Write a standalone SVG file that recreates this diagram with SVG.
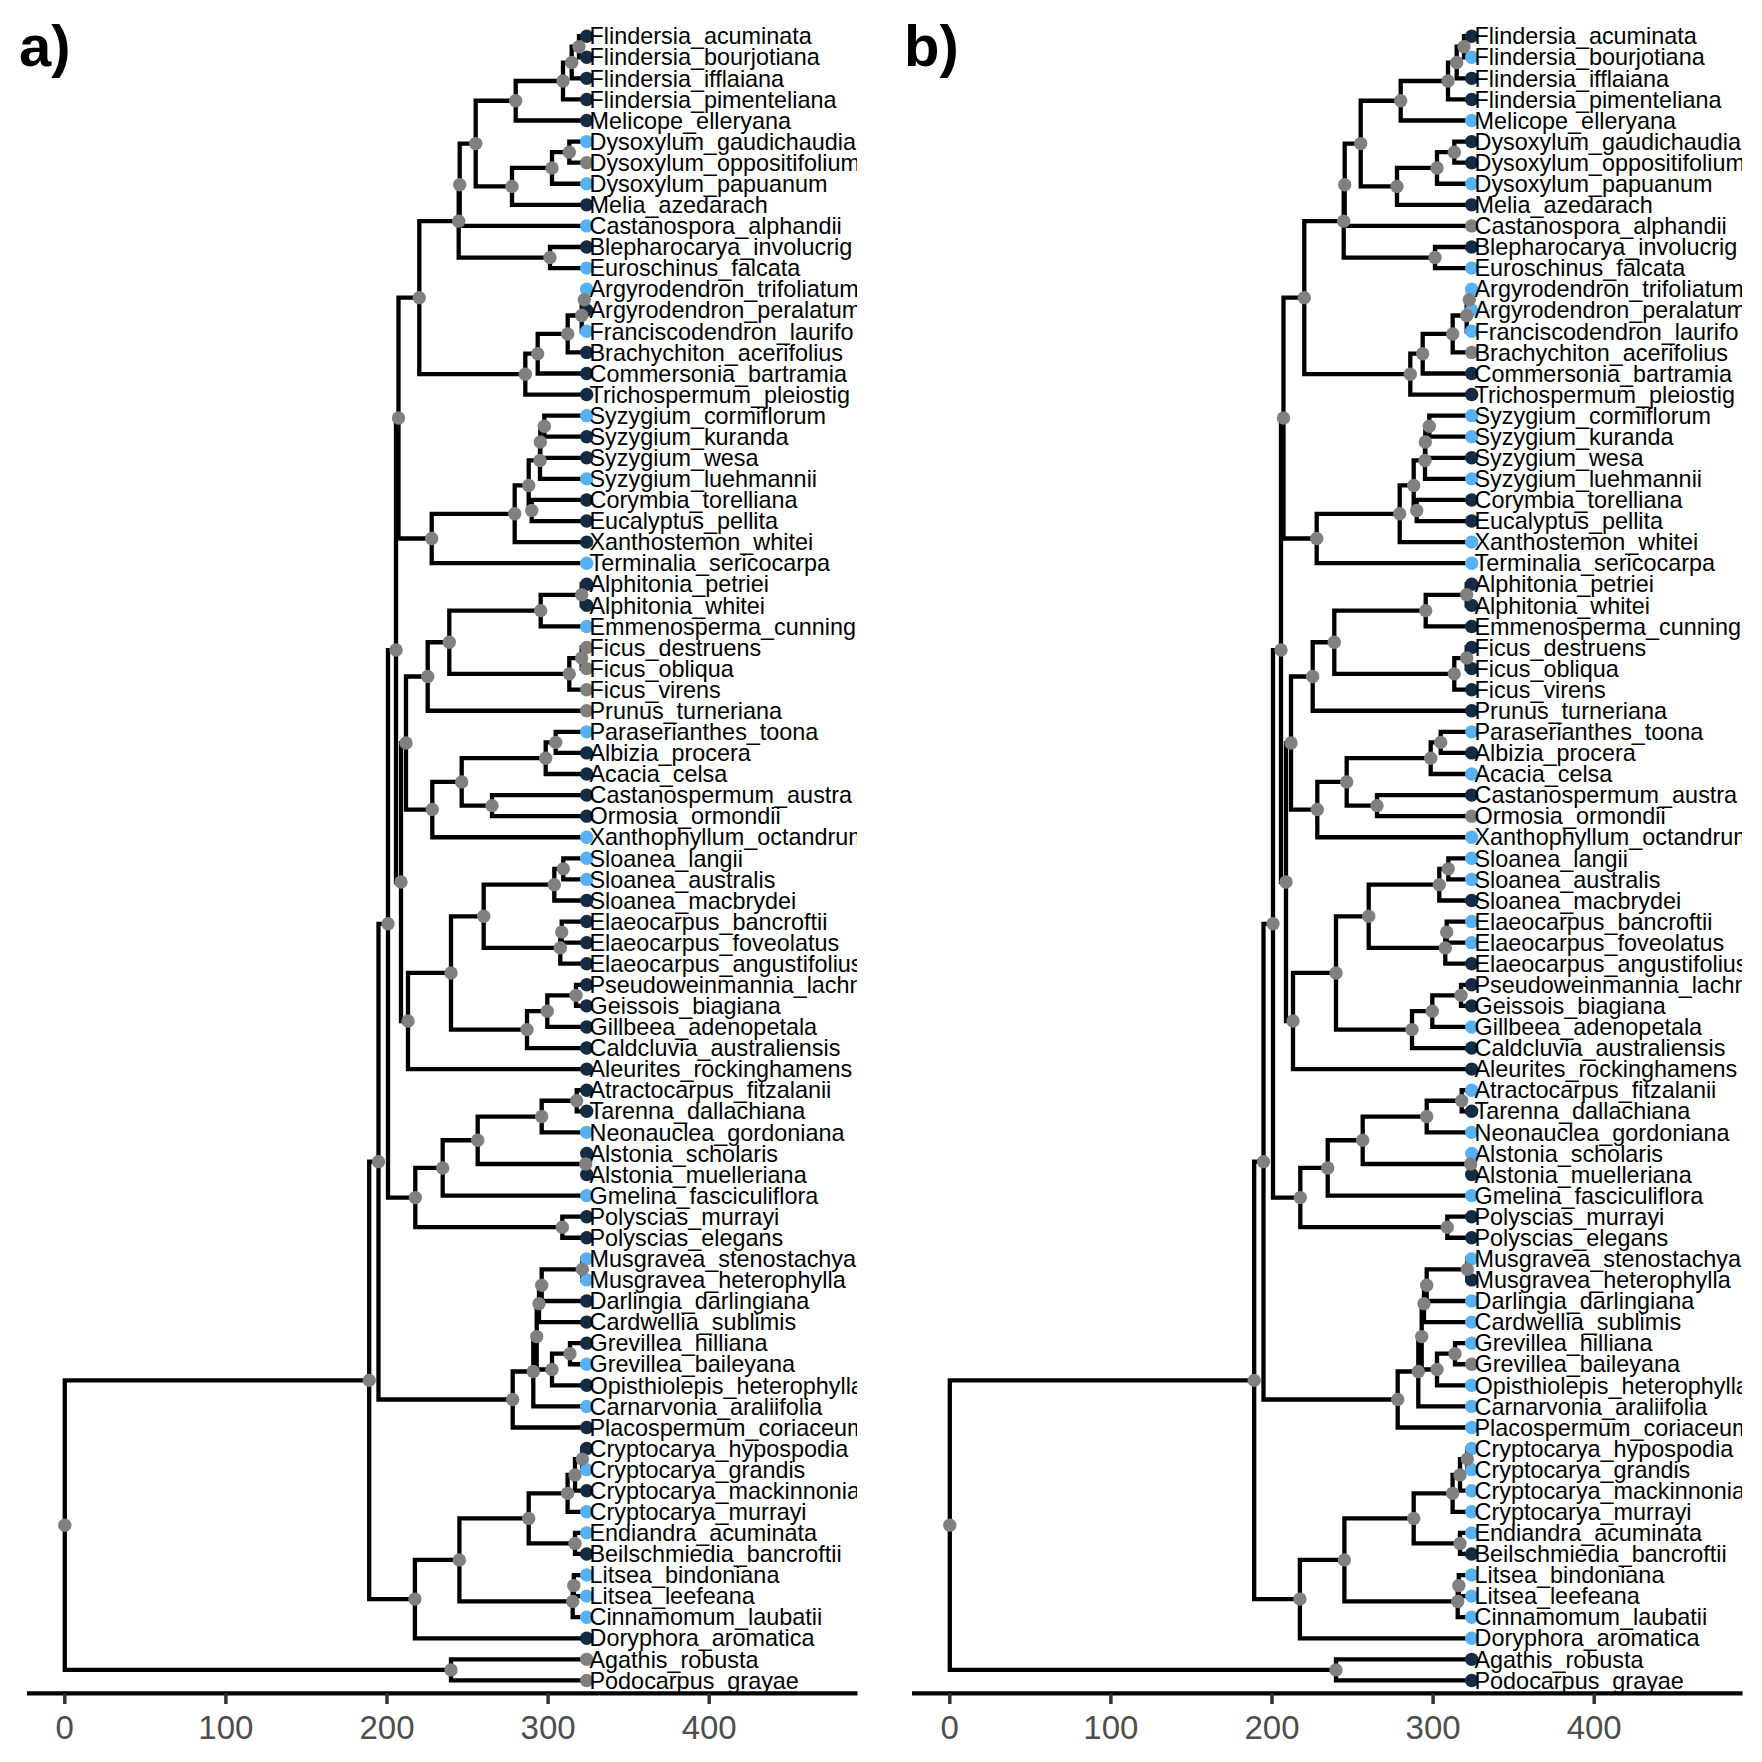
<svg xmlns="http://www.w3.org/2000/svg" width="1762" height="1762" viewBox="0 0 1762 1762">
<style>
.br{fill:none;stroke:#000;stroke-width:4.3;stroke-linejoin:miter;stroke-linecap:butt}
.nd{fill:#808080}
.dk{fill:#132B43}
.lt{fill:#56B1F7}
.gr{fill:#808080}
.lb{font-family:"Liberation Sans",Arial,sans-serif;font-size:23.4px;fill:#000}
.ax{stroke:#000;stroke-width:4.3}
.tk{stroke:#333;stroke-width:3.5}
.tl{font-family:"Liberation Sans",Arial,sans-serif;font-size:33px;fill:#4D4D4D;text-anchor:middle}
.pl{font-family:"Liberation Sans",Arial,sans-serif;font-size:58px;font-weight:bold;fill:#000}
</style>
<defs>
<clipPath id="clip" clipPathUnits="userSpaceOnUse"><rect x="0" y="0" width="857" height="1762"/></clipPath>
</defs>
<rect x="0" y="0" width="1762" height="1762" fill="#fff"/>

<g id="panel-a">
<text class="pl" x="19" y="66">a)</text>
<g id="a-connectors" class="br">
<path d="M586.7 36.2H579V57.28H586.7"/>
<path d="M579 46.74H571.7V78.36H586.7"/>
<path d="M571.7 62.55H563V99.44H586.7"/>
<path d="M563 81H515.7V120.52H586.7"/>
<path d="M586.7 141.6H569.3V162.68H586.7"/>
<path d="M569.3 152.14H552V183.76H586.7"/>
<path d="M552 167.95H512V204.84H586.7"/>
<path d="M515.7 100.76H475.7V186.4H512"/>
<path d="M475.7 143.58H459.7V225.92H586.7"/>
<path d="M586.7 247H550V268.08H586.7"/>
<path d="M459.7 184.75H458.7V257.54H550"/>
<path d="M586.7 289.16H584.3V310.24H586.7"/>
<path d="M584.3 299.7H581.7V331.32H586.7"/>
<path d="M581.7 315.51H567.7V352.4H586.7"/>
<path d="M567.7 333.96H537.7V373.48H586.7"/>
<path d="M537.7 353.72H525.3V394.56H586.7"/>
<path d="M458.7 221.15H419.3V374.14H525.3"/>
<path d="M586.7 415.64H544.3V436.72H586.7"/>
<path d="M544.3 426.18H540.3V457.8H586.7"/>
<path d="M540.3 441.99H540V478.88H586.7"/>
<path d="M586.7 499.96H531.7V521.04H586.7"/>
<path d="M540 460.44H528.7V510.5H531.7"/>
<path d="M528.7 485.47H514.7V542.12H586.7"/>
<path d="M514.7 513.8H431.7V563.2H586.7"/>
<path d="M419.3 297.65H398.5V538.5H431.7"/>
<path d="M586.7 584.28H581.7V605.36H586.7"/>
<path d="M581.7 594.82H540.7V626.44H586.7"/>
<path d="M586.7 647.52H581.7V668.6H586.7"/>
<path d="M581.7 658.06H569.3V689.68H586.7"/>
<path d="M540.7 610.63H449.3V673.87H569.3"/>
<path d="M449.3 642.25H427.7V710.76H586.7"/>
<path d="M586.7 731.84H555.7V752.92H586.7"/>
<path d="M555.7 742.38H545.7V774H586.7"/>
<path d="M586.7 795.08H492V816.16H586.7"/>
<path d="M545.7 758.19H461.7V805.62H492"/>
<path d="M461.7 781.9H432.3V837.24H586.7"/>
<path d="M427.7 676.5H406V809.57H432.3"/>
<path d="M586.7 858.32H563.3V879.4H586.7"/>
<path d="M563.3 868.86H554.3V900.48H586.7"/>
<path d="M586.7 921.56H561.7V942.64H586.7"/>
<path d="M561.7 932.1H560.3V963.72H586.7"/>
<path d="M554.3 884.67H483.7V947.91H560.3"/>
<path d="M586.7 984.8H576V1005.88H586.7"/>
<path d="M576 995.34H547.3V1026.96H586.7"/>
<path d="M547.3 1011.15H527V1048.04H586.7"/>
<path d="M483.7 916.29H451V1029.6H527"/>
<path d="M451 972.94H408V1069.12H586.7"/>
<path d="M406 743.04H401V1021.03H408"/>
<path d="M398.5 418.07H396V882.04H401"/>
<path d="M586.7 1090.2H576.7V1111.28H586.7"/>
<path d="M576.7 1100.74H541.7V1132.36H586.7"/>
<path d="M586.7 1153.44H585.7V1174.52H586.7"/>
<path d="M541.7 1116.55H477.7V1163.98H585.7"/>
<path d="M477.7 1140.27H442.7V1195.6H586.7"/>
<path d="M586.7 1216.68H562.3V1237.76H586.7"/>
<path d="M442.7 1167.93H415.3V1227.22H562.3"/>
<path d="M396 650.05H388V1197.58H415.3"/>
<path d="M586.7 1258.84H582.3V1279.92H586.7"/>
<path d="M582.3 1269.38H541.7V1301H586.7"/>
<path d="M541.7 1285.19H539V1322.08H586.7"/>
<path d="M586.7 1343.16H570V1364.24H586.7"/>
<path d="M570 1353.7H552V1385.32H586.7"/>
<path d="M539 1303.64H536.7V1369.51H552"/>
<path d="M536.7 1336.58H533.3V1406.4H586.7"/>
<path d="M533.3 1371.49H512.7V1427.48H586.7"/>
<path d="M388 923.81H378.5V1399.49H512.7"/>
<path d="M586.7 1448.56H582.3V1469.64H586.7"/>
<path d="M582.3 1459.1H575V1490.72H586.7"/>
<path d="M575 1474.91H567.6V1511.8H586.7"/>
<path d="M586.7 1532.88H575V1553.96H586.7"/>
<path d="M567.6 1493.36H528.7V1543.42H575"/>
<path d="M586.7 1575.04H573.8V1596.12H586.7"/>
<path d="M573.8 1585.58H572.7V1617.2H586.7"/>
<path d="M528.7 1518.39H459.4V1601.39H572.7"/>
<path d="M459.4 1559.89H414.9V1638.28H586.7"/>
<path d="M378.5 1161.65H369.2V1599.09H414.9"/>
<path d="M586.7 1659.36H451V1680.44H586.7"/>
<path d="M369.2 1380.37H64.8V1669.9H451"/>
</g>
<g id="a-tips" clip-path="url(#clip)">
<g id="a-t1"><circle class="dk" cx="586.7" cy="36.2" r="6.7"/><text class="lb" x="589.5" y="44.4">Flindersia_acuminata</text></g>
<g id="a-t2"><circle class="dk" cx="586.7" cy="57.28" r="6.7"/><text class="lb" x="589.5" y="65.48">Flindersia_bourjotiana</text></g>
<g id="a-t3"><circle class="dk" cx="586.7" cy="78.36" r="6.7"/><text class="lb" x="589.5" y="86.56">Flindersia_ifflaiana</text></g>
<g id="a-t4"><circle class="dk" cx="586.7" cy="99.44" r="6.7"/><text class="lb" x="589.5" y="107.64">Flindersia_pimenteliana</text></g>
<g id="a-t5"><circle class="dk" cx="586.7" cy="120.52" r="6.7"/><text class="lb" x="589.5" y="128.72">Melicope_elleryana</text></g>
<g id="a-t6"><circle class="lt" cx="586.7" cy="141.6" r="6.7"/><text class="lb" x="589.5" y="149.8">Dysoxylum_gaudichaudia</text></g>
<g id="a-t7"><circle class="gr" cx="586.7" cy="162.68" r="6.7"/><text class="lb" x="589.5" y="170.88">Dysoxylum_oppositifolium</text></g>
<g id="a-t8"><circle class="lt" cx="586.7" cy="183.76" r="6.7"/><text class="lb" x="589.5" y="191.96">Dysoxylum_papuanum</text></g>
<g id="a-t9"><circle class="dk" cx="586.7" cy="204.84" r="6.7"/><text class="lb" x="589.5" y="213.04">Melia_azedarach</text></g>
<g id="a-t10"><circle class="lt" cx="586.7" cy="225.92" r="6.7"/><text class="lb" x="589.5" y="234.12">Castanospora_alphandii</text></g>
<g id="a-t11"><circle class="dk" cx="586.7" cy="247" r="6.7"/><text class="lb" x="589.5" y="255.2">Blepharocarya_involucrig</text></g>
<g id="a-t12"><circle class="lt" cx="586.7" cy="268.08" r="6.7"/><text class="lb" x="589.5" y="276.28">Euroschinus_falcata</text></g>
<g id="a-t13"><circle class="lt" cx="586.7" cy="289.16" r="6.7"/><text class="lb" x="589.5" y="297.36">Argyrodendron_trifoliatum</text></g>
<g id="a-t14"><circle class="dk" cx="586.7" cy="310.24" r="6.7"/><text class="lb" x="589.5" y="318.44">Argyrodendron_peralatum</text></g>
<g id="a-t15"><circle class="lt" cx="586.7" cy="331.32" r="6.7"/><text class="lb" x="589.5" y="339.52">Franciscodendron_laurifo</text></g>
<g id="a-t16"><circle class="dk" cx="586.7" cy="352.4" r="6.7"/><text class="lb" x="589.5" y="360.6">Brachychiton_acerifolius</text></g>
<g id="a-t17"><circle class="dk" cx="586.7" cy="373.48" r="6.7"/><text class="lb" x="589.5" y="381.68">Commersonia_bartramia</text></g>
<g id="a-t18"><circle class="dk" cx="586.7" cy="394.56" r="6.7"/><text class="lb" x="589.5" y="402.76">Trichospermum_pleiostig</text></g>
<g id="a-t19"><circle class="lt" cx="586.7" cy="415.64" r="6.7"/><text class="lb" x="589.5" y="423.84">Syzygium_cormiflorum</text></g>
<g id="a-t20"><circle class="dk" cx="586.7" cy="436.72" r="6.7"/><text class="lb" x="589.5" y="444.92">Syzygium_kuranda</text></g>
<g id="a-t21"><circle class="dk" cx="586.7" cy="457.8" r="6.7"/><text class="lb" x="589.5" y="466">Syzygium_wesa</text></g>
<g id="a-t22"><circle class="lt" cx="586.7" cy="478.88" r="6.7"/><text class="lb" x="589.5" y="487.08">Syzygium_luehmannii</text></g>
<g id="a-t23"><circle class="dk" cx="586.7" cy="499.96" r="6.7"/><text class="lb" x="589.5" y="508.16">Corymbia_torelliana</text></g>
<g id="a-t24"><circle class="dk" cx="586.7" cy="521.04" r="6.7"/><text class="lb" x="589.5" y="529.24">Eucalyptus_pellita</text></g>
<g id="a-t25"><circle class="dk" cx="586.7" cy="542.12" r="6.7"/><text class="lb" x="589.5" y="550.32">Xanthostemon_whitei</text></g>
<g id="a-t26"><circle class="lt" cx="586.7" cy="563.2" r="6.7"/><text class="lb" x="589.5" y="571.4">Terminalia_sericocarpa</text></g>
<g id="a-t27"><circle class="dk" cx="586.7" cy="584.28" r="6.7"/><text class="lb" x="589.5" y="592.48">Alphitonia_petriei</text></g>
<g id="a-t28"><circle class="dk" cx="586.7" cy="605.36" r="6.7"/><text class="lb" x="589.5" y="613.56">Alphitonia_whitei</text></g>
<g id="a-t29"><circle class="lt" cx="586.7" cy="626.44" r="6.7"/><text class="lb" x="589.5" y="634.64">Emmenosperma_cunning</text></g>
<g id="a-t30"><circle class="gr" cx="586.7" cy="647.52" r="6.7"/><text class="lb" x="589.5" y="655.72">Ficus_destruens</text></g>
<g id="a-t31"><circle class="gr" cx="586.7" cy="668.6" r="6.7"/><text class="lb" x="589.5" y="676.8">Ficus_obliqua</text></g>
<g id="a-t32"><circle class="gr" cx="586.7" cy="689.68" r="6.7"/><text class="lb" x="589.5" y="697.88">Ficus_virens</text></g>
<g id="a-t33"><circle class="gr" cx="586.7" cy="710.76" r="6.7"/><text class="lb" x="589.5" y="718.96">Prunus_turneriana</text></g>
<g id="a-t34"><circle class="lt" cx="586.7" cy="731.84" r="6.7"/><text class="lb" x="589.5" y="740.04">Paraserianthes_toona</text></g>
<g id="a-t35"><circle class="dk" cx="586.7" cy="752.92" r="6.7"/><text class="lb" x="589.5" y="761.12">Albizia_procera</text></g>
<g id="a-t36"><circle class="dk" cx="586.7" cy="774" r="6.7"/><text class="lb" x="589.5" y="782.2">Acacia_celsa</text></g>
<g id="a-t37"><circle class="dk" cx="586.7" cy="795.08" r="6.7"/><text class="lb" x="589.5" y="803.28">Castanospermum_austra</text></g>
<g id="a-t38"><circle class="dk" cx="586.7" cy="816.16" r="6.7"/><text class="lb" x="589.5" y="824.36">Ormosia_ormondii</text></g>
<g id="a-t39"><circle class="lt" cx="586.7" cy="837.24" r="6.7"/><text class="lb" x="589.5" y="845.44">Xanthophyllum_octandrum</text></g>
<g id="a-t40"><circle class="lt" cx="586.7" cy="858.32" r="6.7"/><text class="lb" x="589.5" y="866.52">Sloanea_langii</text></g>
<g id="a-t41"><circle class="lt" cx="586.7" cy="879.4" r="6.7"/><text class="lb" x="589.5" y="887.6">Sloanea_australis</text></g>
<g id="a-t42"><circle class="dk" cx="586.7" cy="900.48" r="6.7"/><text class="lb" x="589.5" y="908.68">Sloanea_macbrydei</text></g>
<g id="a-t43"><circle class="dk" cx="586.7" cy="921.56" r="6.7"/><text class="lb" x="589.5" y="929.76">Elaeocarpus_bancroftii</text></g>
<g id="a-t44"><circle class="dk" cx="586.7" cy="942.64" r="6.7"/><text class="lb" x="589.5" y="950.84">Elaeocarpus_foveolatus</text></g>
<g id="a-t45"><circle class="dk" cx="586.7" cy="963.72" r="6.7"/><text class="lb" x="589.5" y="971.92">Elaeocarpus_angustifolius</text></g>
<g id="a-t46"><circle class="dk" cx="586.7" cy="984.8" r="6.7"/><text class="lb" x="589.5" y="993">Pseudoweinmannia_lachn</text></g>
<g id="a-t47"><circle class="dk" cx="586.7" cy="1005.88" r="6.7"/><text class="lb" x="589.5" y="1014.08">Geissois_biagiana</text></g>
<g id="a-t48"><circle class="dk" cx="586.7" cy="1026.96" r="6.7"/><text class="lb" x="589.5" y="1035.16">Gillbeea_adenopetala</text></g>
<g id="a-t49"><circle class="dk" cx="586.7" cy="1048.04" r="6.7"/><text class="lb" x="589.5" y="1056.24">Caldcluvia_australiensis</text></g>
<g id="a-t50"><circle class="dk" cx="586.7" cy="1069.12" r="6.7"/><text class="lb" x="589.5" y="1077.32">Aleurites_rockinghamens</text></g>
<g id="a-t51"><circle class="dk" cx="586.7" cy="1090.2" r="6.7"/><text class="lb" x="589.5" y="1098.4">Atractocarpus_fitzalanii</text></g>
<g id="a-t52"><circle class="dk" cx="586.7" cy="1111.28" r="6.7"/><text class="lb" x="589.5" y="1119.48">Tarenna_dallachiana</text></g>
<g id="a-t53"><circle class="lt" cx="586.7" cy="1132.36" r="6.7"/><text class="lb" x="589.5" y="1140.56">Neonauclea_gordoniana</text></g>
<g id="a-t54"><circle class="dk" cx="586.7" cy="1153.44" r="6.7"/><text class="lb" x="589.5" y="1161.64">Alstonia_scholaris</text></g>
<g id="a-t55"><circle class="dk" cx="586.7" cy="1174.52" r="6.7"/><text class="lb" x="589.5" y="1182.72">Alstonia_muelleriana</text></g>
<g id="a-t56"><circle class="lt" cx="586.7" cy="1195.6" r="6.7"/><text class="lb" x="589.5" y="1203.8">Gmelina_fasciculiflora</text></g>
<g id="a-t57"><circle class="dk" cx="586.7" cy="1216.68" r="6.7"/><text class="lb" x="589.5" y="1224.88">Polyscias_murrayi</text></g>
<g id="a-t58"><circle class="dk" cx="586.7" cy="1237.76" r="6.7"/><text class="lb" x="589.5" y="1245.96">Polyscias_elegans</text></g>
<g id="a-t59"><circle class="lt" cx="586.7" cy="1258.84" r="6.7"/><text class="lb" x="589.5" y="1267.04">Musgravea_stenostachya</text></g>
<g id="a-t60"><circle class="lt" cx="586.7" cy="1279.92" r="6.7"/><text class="lb" x="589.5" y="1288.12">Musgravea_heterophylla</text></g>
<g id="a-t61"><circle class="dk" cx="586.7" cy="1301" r="6.7"/><text class="lb" x="589.5" y="1309.2">Darlingia_darlingiana</text></g>
<g id="a-t62"><circle class="dk" cx="586.7" cy="1322.08" r="6.7"/><text class="lb" x="589.5" y="1330.28">Cardwellia_sublimis</text></g>
<g id="a-t63"><circle class="dk" cx="586.7" cy="1343.16" r="6.7"/><text class="lb" x="589.5" y="1351.36">Grevillea_hilliana</text></g>
<g id="a-t64"><circle class="lt" cx="586.7" cy="1364.24" r="6.7"/><text class="lb" x="589.5" y="1372.44">Grevillea_baileyana</text></g>
<g id="a-t65"><circle class="dk" cx="586.7" cy="1385.32" r="6.7"/><text class="lb" x="589.5" y="1393.52">Opisthiolepis_heterophylla</text></g>
<g id="a-t66"><circle class="lt" cx="586.7" cy="1406.4" r="6.7"/><text class="lb" x="589.5" y="1414.6">Carnarvonia_araliifolia</text></g>
<g id="a-t67"><circle class="dk" cx="586.7" cy="1427.48" r="6.7"/><text class="lb" x="589.5" y="1435.68">Placospermum_coriaceum</text></g>
<g id="a-t68"><circle class="dk" cx="586.7" cy="1448.56" r="6.7"/><text class="lb" x="589.5" y="1456.76">Cryptocarya_hypospodia</text></g>
<g id="a-t69"><circle class="lt" cx="586.7" cy="1469.64" r="6.7"/><text class="lb" x="589.5" y="1477.84">Cryptocarya_grandis</text></g>
<g id="a-t70"><circle class="dk" cx="586.7" cy="1490.72" r="6.7"/><text class="lb" x="589.5" y="1498.92">Cryptocarya_mackinnonia</text></g>
<g id="a-t71"><circle class="lt" cx="586.7" cy="1511.8" r="6.7"/><text class="lb" x="589.5" y="1520">Cryptocarya_murrayi</text></g>
<g id="a-t72"><circle class="lt" cx="586.7" cy="1532.88" r="6.7"/><text class="lb" x="589.5" y="1541.08">Endiandra_acuminata</text></g>
<g id="a-t73"><circle class="dk" cx="586.7" cy="1553.96" r="6.7"/><text class="lb" x="589.5" y="1562.16">Beilschmiedia_bancroftii</text></g>
<g id="a-t74"><circle class="lt" cx="586.7" cy="1575.04" r="6.7"/><text class="lb" x="589.5" y="1583.24">Litsea_bindoniana</text></g>
<g id="a-t75"><circle class="lt" cx="586.7" cy="1596.12" r="6.7"/><text class="lb" x="589.5" y="1604.32">Litsea_leefeana</text></g>
<g id="a-t76"><circle class="lt" cx="586.7" cy="1617.2" r="6.7"/><text class="lb" x="589.5" y="1625.4">Cinnamomum_laubatii</text></g>
<g id="a-t77"><circle class="dk" cx="586.7" cy="1638.28" r="6.7"/><text class="lb" x="589.5" y="1646.48">Doryphora_aromatica</text></g>
<g id="a-t78"><circle class="gr" cx="586.7" cy="1659.36" r="6.7"/><text class="lb" x="589.5" y="1667.56">Agathis_robusta</text></g>
<g id="a-t79"><circle class="gr" cx="586.7" cy="1680.44" r="6.7"/><text class="lb" x="589.5" y="1688.64">Podocarpus_grayae</text></g>
</g>
<g id="a-nodes" class="nd">
<g id="a-n1"><circle cx="579" cy="46.74" r="6.7"/></g>
<g id="a-n2"><circle cx="571.7" cy="62.55" r="6.7"/></g>
<g id="a-n3"><circle cx="563" cy="81" r="6.7"/></g>
<g id="a-n4"><circle cx="515.7" cy="100.76" r="6.7"/></g>
<g id="a-n5"><circle cx="569.3" cy="152.14" r="6.7"/></g>
<g id="a-n6"><circle cx="552" cy="167.95" r="6.7"/></g>
<g id="a-n7"><circle cx="512" cy="186.4" r="6.7"/></g>
<g id="a-n8"><circle cx="475.7" cy="143.58" r="6.7"/></g>
<g id="a-n9"><circle cx="459.7" cy="184.75" r="6.7"/></g>
<g id="a-n10"><circle cx="550" cy="257.54" r="6.7"/></g>
<g id="a-n11"><circle cx="458.7" cy="221.15" r="6.7"/></g>
<g id="a-n12"><circle cx="584.3" cy="299.7" r="6.7"/></g>
<g id="a-n13"><circle cx="581.7" cy="315.51" r="6.7"/></g>
<g id="a-n14"><circle cx="567.7" cy="333.96" r="6.7"/></g>
<g id="a-n15"><circle cx="537.7" cy="353.72" r="6.7"/></g>
<g id="a-n16"><circle cx="525.3" cy="374.14" r="6.7"/></g>
<g id="a-n17"><circle cx="419.3" cy="297.65" r="6.7"/></g>
<g id="a-n18"><circle cx="544.3" cy="426.18" r="6.7"/></g>
<g id="a-n19"><circle cx="540.3" cy="441.99" r="6.7"/></g>
<g id="a-n20"><circle cx="540" cy="460.44" r="6.7"/></g>
<g id="a-n21"><circle cx="531.7" cy="510.5" r="6.7"/></g>
<g id="a-n22"><circle cx="528.7" cy="485.47" r="6.7"/></g>
<g id="a-n23"><circle cx="514.7" cy="513.8" r="6.7"/></g>
<g id="a-n24"><circle cx="431.7" cy="538.5" r="6.7"/></g>
<g id="a-n25"><circle cx="398.5" cy="418.07" r="6.7"/></g>
<g id="a-n26"><circle cx="581.7" cy="594.82" r="6.7"/></g>
<g id="a-n27"><circle cx="540.7" cy="610.63" r="6.7"/></g>
<g id="a-n28"><circle cx="581.7" cy="658.06" r="6.7"/></g>
<g id="a-n29"><circle cx="569.3" cy="673.87" r="6.7"/></g>
<g id="a-n30"><circle cx="449.3" cy="642.25" r="6.7"/></g>
<g id="a-n31"><circle cx="427.7" cy="676.5" r="6.7"/></g>
<g id="a-n32"><circle cx="555.7" cy="742.38" r="6.7"/></g>
<g id="a-n33"><circle cx="545.7" cy="758.19" r="6.7"/></g>
<g id="a-n34"><circle cx="492" cy="805.62" r="6.7"/></g>
<g id="a-n35"><circle cx="461.7" cy="781.9" r="6.7"/></g>
<g id="a-n36"><circle cx="432.3" cy="809.57" r="6.7"/></g>
<g id="a-n37"><circle cx="406" cy="743.04" r="6.7"/></g>
<g id="a-n38"><circle cx="563.3" cy="868.86" r="6.7"/></g>
<g id="a-n39"><circle cx="554.3" cy="884.67" r="6.7"/></g>
<g id="a-n40"><circle cx="561.7" cy="932.1" r="6.7"/></g>
<g id="a-n41"><circle cx="560.3" cy="947.91" r="6.7"/></g>
<g id="a-n42"><circle cx="483.7" cy="916.29" r="6.7"/></g>
<g id="a-n43"><circle cx="576" cy="995.34" r="6.7"/></g>
<g id="a-n44"><circle cx="547.3" cy="1011.15" r="6.7"/></g>
<g id="a-n45"><circle cx="527" cy="1029.6" r="6.7"/></g>
<g id="a-n46"><circle cx="451" cy="972.94" r="6.7"/></g>
<g id="a-n47"><circle cx="408" cy="1021.03" r="6.7"/></g>
<g id="a-n48"><circle cx="401" cy="882.04" r="6.7"/></g>
<g id="a-n49"><circle cx="396" cy="650.05" r="6.7"/></g>
<g id="a-n50"><circle cx="576.7" cy="1100.74" r="6.7"/></g>
<g id="a-n51"><circle cx="541.7" cy="1116.55" r="6.7"/></g>
<g id="a-n52"><circle cx="585.7" cy="1163.98" r="6.7"/></g>
<g id="a-n53"><circle cx="477.7" cy="1140.27" r="6.7"/></g>
<g id="a-n54"><circle cx="442.7" cy="1167.93" r="6.7"/></g>
<g id="a-n55"><circle cx="562.3" cy="1227.22" r="6.7"/></g>
<g id="a-n56"><circle cx="415.3" cy="1197.58" r="6.7"/></g>
<g id="a-n57"><circle cx="388" cy="923.81" r="6.7"/></g>
<g id="a-n58"><circle cx="582.3" cy="1269.38" r="6.7"/></g>
<g id="a-n59"><circle cx="541.7" cy="1285.19" r="6.7"/></g>
<g id="a-n60"><circle cx="539" cy="1303.64" r="6.7"/></g>
<g id="a-n61"><circle cx="570" cy="1353.7" r="6.7"/></g>
<g id="a-n62"><circle cx="552" cy="1369.51" r="6.7"/></g>
<g id="a-n63"><circle cx="536.7" cy="1336.58" r="6.7"/></g>
<g id="a-n64"><circle cx="533.3" cy="1371.49" r="6.7"/></g>
<g id="a-n65"><circle cx="512.7" cy="1399.49" r="6.7"/></g>
<g id="a-n66"><circle cx="378.5" cy="1161.65" r="6.7"/></g>
<g id="a-n67"><circle cx="582.3" cy="1459.1" r="6.7"/></g>
<g id="a-n68"><circle cx="575" cy="1474.91" r="6.7"/></g>
<g id="a-n69"><circle cx="567.6" cy="1493.36" r="6.7"/></g>
<g id="a-n70"><circle cx="575" cy="1543.42" r="6.7"/></g>
<g id="a-n71"><circle cx="528.7" cy="1518.39" r="6.7"/></g>
<g id="a-n72"><circle cx="573.8" cy="1585.58" r="6.7"/></g>
<g id="a-n73"><circle cx="572.7" cy="1601.39" r="6.7"/></g>
<g id="a-n74"><circle cx="459.4" cy="1559.89" r="6.7"/></g>
<g id="a-n75"><circle cx="414.9" cy="1599.09" r="6.7"/></g>
<g id="a-n76"><circle cx="369.2" cy="1380.37" r="6.7"/></g>
<g id="a-n77"><circle cx="451" cy="1669.9" r="6.7"/></g>
<g id="a-n78"><circle cx="64.8" cy="1525.14" r="6.7"/></g>
</g>
<g id="a-axis">
<line class="ax" x1="27" y1="1693.3" x2="857.5" y2="1693.3"/>
<line class="tk" x1="64.8" y1="1693.3" x2="64.8" y2="1704"/>
<line class="tk" x1="225.9" y1="1693.3" x2="225.9" y2="1704"/>
<line class="tk" x1="387" y1="1693.3" x2="387" y2="1704"/>
<line class="tk" x1="548.1" y1="1693.3" x2="548.1" y2="1704"/>
<line class="tk" x1="709.2" y1="1693.3" x2="709.2" y2="1704"/>
<text class="tl" x="64.8" y="1739">0</text>
<text class="tl" x="225.9" y="1739">100</text>
<text class="tl" x="387" y="1739">200</text>
<text class="tl" x="548.1" y="1739">300</text>
<text class="tl" x="709.2" y="1739">400</text>
</g>
</g>

<g id="panel-b" transform="translate(885 0)">
<text class="pl" x="19" y="66">b)</text>
<g id="b-connectors" class="br">
<path d="M586.7 36.2H579V57.28H586.7"/>
<path d="M579 46.74H571.7V78.36H586.7"/>
<path d="M571.7 62.55H563V99.44H586.7"/>
<path d="M563 81H515.7V120.52H586.7"/>
<path d="M586.7 141.6H569.3V162.68H586.7"/>
<path d="M569.3 152.14H552V183.76H586.7"/>
<path d="M552 167.95H512V204.84H586.7"/>
<path d="M515.7 100.76H475.7V186.4H512"/>
<path d="M475.7 143.58H459.7V225.92H586.7"/>
<path d="M586.7 247H550V268.08H586.7"/>
<path d="M459.7 184.75H458.7V257.54H550"/>
<path d="M586.7 289.16H584.3V310.24H586.7"/>
<path d="M584.3 299.7H581.7V331.32H586.7"/>
<path d="M581.7 315.51H567.7V352.4H586.7"/>
<path d="M567.7 333.96H537.7V373.48H586.7"/>
<path d="M537.7 353.72H525.3V394.56H586.7"/>
<path d="M458.7 221.15H419.3V374.14H525.3"/>
<path d="M586.7 415.64H544.3V436.72H586.7"/>
<path d="M544.3 426.18H540.3V457.8H586.7"/>
<path d="M540.3 441.99H540V478.88H586.7"/>
<path d="M586.7 499.96H531.7V521.04H586.7"/>
<path d="M540 460.44H528.7V510.5H531.7"/>
<path d="M528.7 485.47H514.7V542.12H586.7"/>
<path d="M514.7 513.8H431.7V563.2H586.7"/>
<path d="M419.3 297.65H398.5V538.5H431.7"/>
<path d="M586.7 584.28H581.7V605.36H586.7"/>
<path d="M581.7 594.82H540.7V626.44H586.7"/>
<path d="M586.7 647.52H581.7V668.6H586.7"/>
<path d="M581.7 658.06H569.3V689.68H586.7"/>
<path d="M540.7 610.63H449.3V673.87H569.3"/>
<path d="M449.3 642.25H427.7V710.76H586.7"/>
<path d="M586.7 731.84H555.7V752.92H586.7"/>
<path d="M555.7 742.38H545.7V774H586.7"/>
<path d="M586.7 795.08H492V816.16H586.7"/>
<path d="M545.7 758.19H461.7V805.62H492"/>
<path d="M461.7 781.9H432.3V837.24H586.7"/>
<path d="M427.7 676.5H406V809.57H432.3"/>
<path d="M586.7 858.32H563.3V879.4H586.7"/>
<path d="M563.3 868.86H554.3V900.48H586.7"/>
<path d="M586.7 921.56H561.7V942.64H586.7"/>
<path d="M561.7 932.1H560.3V963.72H586.7"/>
<path d="M554.3 884.67H483.7V947.91H560.3"/>
<path d="M586.7 984.8H576V1005.88H586.7"/>
<path d="M576 995.34H547.3V1026.96H586.7"/>
<path d="M547.3 1011.15H527V1048.04H586.7"/>
<path d="M483.7 916.29H451V1029.6H527"/>
<path d="M451 972.94H408V1069.12H586.7"/>
<path d="M406 743.04H401V1021.03H408"/>
<path d="M398.5 418.07H396V882.04H401"/>
<path d="M586.7 1090.2H576.7V1111.28H586.7"/>
<path d="M576.7 1100.74H541.7V1132.36H586.7"/>
<path d="M586.7 1153.44H585.7V1174.52H586.7"/>
<path d="M541.7 1116.55H477.7V1163.98H585.7"/>
<path d="M477.7 1140.27H442.7V1195.6H586.7"/>
<path d="M586.7 1216.68H562.3V1237.76H586.7"/>
<path d="M442.7 1167.93H415.3V1227.22H562.3"/>
<path d="M396 650.05H388V1197.58H415.3"/>
<path d="M586.7 1258.84H582.3V1279.92H586.7"/>
<path d="M582.3 1269.38H541.7V1301H586.7"/>
<path d="M541.7 1285.19H539V1322.08H586.7"/>
<path d="M586.7 1343.16H570V1364.24H586.7"/>
<path d="M570 1353.7H552V1385.32H586.7"/>
<path d="M539 1303.64H536.7V1369.51H552"/>
<path d="M536.7 1336.58H533.3V1406.4H586.7"/>
<path d="M533.3 1371.49H512.7V1427.48H586.7"/>
<path d="M388 923.81H378.5V1399.49H512.7"/>
<path d="M586.7 1448.56H582.3V1469.64H586.7"/>
<path d="M582.3 1459.1H575V1490.72H586.7"/>
<path d="M575 1474.91H567.6V1511.8H586.7"/>
<path d="M586.7 1532.88H575V1553.96H586.7"/>
<path d="M567.6 1493.36H528.7V1543.42H575"/>
<path d="M586.7 1575.04H573.8V1596.12H586.7"/>
<path d="M573.8 1585.58H572.7V1617.2H586.7"/>
<path d="M528.7 1518.39H459.4V1601.39H572.7"/>
<path d="M459.4 1559.89H414.9V1638.28H586.7"/>
<path d="M378.5 1161.65H369.2V1599.09H414.9"/>
<path d="M586.7 1659.36H451V1680.44H586.7"/>
<path d="M369.2 1380.37H64.8V1669.9H451"/>
</g>
<g id="b-tips" clip-path="url(#clip)">
<g id="b-t1"><circle class="dk" cx="586.7" cy="36.2" r="6.7"/><text class="lb" x="589.5" y="44.4">Flindersia_acuminata</text></g>
<g id="b-t2"><circle class="lt" cx="586.7" cy="57.28" r="6.7"/><text class="lb" x="589.5" y="65.48">Flindersia_bourjotiana</text></g>
<g id="b-t3"><circle class="dk" cx="586.7" cy="78.36" r="6.7"/><text class="lb" x="589.5" y="86.56">Flindersia_ifflaiana</text></g>
<g id="b-t4"><circle class="dk" cx="586.7" cy="99.44" r="6.7"/><text class="lb" x="589.5" y="107.64">Flindersia_pimenteliana</text></g>
<g id="b-t5"><circle class="lt" cx="586.7" cy="120.52" r="6.7"/><text class="lb" x="589.5" y="128.72">Melicope_elleryana</text></g>
<g id="b-t6"><circle class="dk" cx="586.7" cy="141.6" r="6.7"/><text class="lb" x="589.5" y="149.8">Dysoxylum_gaudichaudia</text></g>
<g id="b-t7"><circle class="dk" cx="586.7" cy="162.68" r="6.7"/><text class="lb" x="589.5" y="170.88">Dysoxylum_oppositifolium</text></g>
<g id="b-t8"><circle class="lt" cx="586.7" cy="183.76" r="6.7"/><text class="lb" x="589.5" y="191.96">Dysoxylum_papuanum</text></g>
<g id="b-t9"><circle class="dk" cx="586.7" cy="204.84" r="6.7"/><text class="lb" x="589.5" y="213.04">Melia_azedarach</text></g>
<g id="b-t10"><circle class="gr" cx="586.7" cy="225.92" r="6.7"/><text class="lb" x="589.5" y="234.12">Castanospora_alphandii</text></g>
<g id="b-t11"><circle class="dk" cx="586.7" cy="247" r="6.7"/><text class="lb" x="589.5" y="255.2">Blepharocarya_involucrig</text></g>
<g id="b-t12"><circle class="lt" cx="586.7" cy="268.08" r="6.7"/><text class="lb" x="589.5" y="276.28">Euroschinus_falcata</text></g>
<g id="b-t13"><circle class="lt" cx="586.7" cy="289.16" r="6.7"/><text class="lb" x="589.5" y="297.36">Argyrodendron_trifoliatum</text></g>
<g id="b-t14"><circle class="lt" cx="586.7" cy="310.24" r="6.7"/><text class="lb" x="589.5" y="318.44">Argyrodendron_peralatum</text></g>
<g id="b-t15"><circle class="lt" cx="586.7" cy="331.32" r="6.7"/><text class="lb" x="589.5" y="339.52">Franciscodendron_laurifo</text></g>
<g id="b-t16"><circle class="gr" cx="586.7" cy="352.4" r="6.7"/><text class="lb" x="589.5" y="360.6">Brachychiton_acerifolius</text></g>
<g id="b-t17"><circle class="dk" cx="586.7" cy="373.48" r="6.7"/><text class="lb" x="589.5" y="381.68">Commersonia_bartramia</text></g>
<g id="b-t18"><circle class="dk" cx="586.7" cy="394.56" r="6.7"/><text class="lb" x="589.5" y="402.76">Trichospermum_pleiostig</text></g>
<g id="b-t19"><circle class="lt" cx="586.7" cy="415.64" r="6.7"/><text class="lb" x="589.5" y="423.84">Syzygium_cormiflorum</text></g>
<g id="b-t20"><circle class="lt" cx="586.7" cy="436.72" r="6.7"/><text class="lb" x="589.5" y="444.92">Syzygium_kuranda</text></g>
<g id="b-t21"><circle class="dk" cx="586.7" cy="457.8" r="6.7"/><text class="lb" x="589.5" y="466">Syzygium_wesa</text></g>
<g id="b-t22"><circle class="lt" cx="586.7" cy="478.88" r="6.7"/><text class="lb" x="589.5" y="487.08">Syzygium_luehmannii</text></g>
<g id="b-t23"><circle class="dk" cx="586.7" cy="499.96" r="6.7"/><text class="lb" x="589.5" y="508.16">Corymbia_torelliana</text></g>
<g id="b-t24"><circle class="dk" cx="586.7" cy="521.04" r="6.7"/><text class="lb" x="589.5" y="529.24">Eucalyptus_pellita</text></g>
<g id="b-t25"><circle class="lt" cx="586.7" cy="542.12" r="6.7"/><text class="lb" x="589.5" y="550.32">Xanthostemon_whitei</text></g>
<g id="b-t26"><circle class="lt" cx="586.7" cy="563.2" r="6.7"/><text class="lb" x="589.5" y="571.4">Terminalia_sericocarpa</text></g>
<g id="b-t27"><circle class="dk" cx="586.7" cy="584.28" r="6.7"/><text class="lb" x="589.5" y="592.48">Alphitonia_petriei</text></g>
<g id="b-t28"><circle class="dk" cx="586.7" cy="605.36" r="6.7"/><text class="lb" x="589.5" y="613.56">Alphitonia_whitei</text></g>
<g id="b-t29"><circle class="dk" cx="586.7" cy="626.44" r="6.7"/><text class="lb" x="589.5" y="634.64">Emmenosperma_cunning</text></g>
<g id="b-t30"><circle class="dk" cx="586.7" cy="647.52" r="6.7"/><text class="lb" x="589.5" y="655.72">Ficus_destruens</text></g>
<g id="b-t31"><circle class="dk" cx="586.7" cy="668.6" r="6.7"/><text class="lb" x="589.5" y="676.8">Ficus_obliqua</text></g>
<g id="b-t32"><circle class="dk" cx="586.7" cy="689.68" r="6.7"/><text class="lb" x="589.5" y="697.88">Ficus_virens</text></g>
<g id="b-t33"><circle class="dk" cx="586.7" cy="710.76" r="6.7"/><text class="lb" x="589.5" y="718.96">Prunus_turneriana</text></g>
<g id="b-t34"><circle class="lt" cx="586.7" cy="731.84" r="6.7"/><text class="lb" x="589.5" y="740.04">Paraserianthes_toona</text></g>
<g id="b-t35"><circle class="dk" cx="586.7" cy="752.92" r="6.7"/><text class="lb" x="589.5" y="761.12">Albizia_procera</text></g>
<g id="b-t36"><circle class="lt" cx="586.7" cy="774" r="6.7"/><text class="lb" x="589.5" y="782.2">Acacia_celsa</text></g>
<g id="b-t37"><circle class="dk" cx="586.7" cy="795.08" r="6.7"/><text class="lb" x="589.5" y="803.28">Castanospermum_austra</text></g>
<g id="b-t38"><circle class="gr" cx="586.7" cy="816.16" r="6.7"/><text class="lb" x="589.5" y="824.36">Ormosia_ormondii</text></g>
<g id="b-t39"><circle class="lt" cx="586.7" cy="837.24" r="6.7"/><text class="lb" x="589.5" y="845.44">Xanthophyllum_octandrum</text></g>
<g id="b-t40"><circle class="lt" cx="586.7" cy="858.32" r="6.7"/><text class="lb" x="589.5" y="866.52">Sloanea_langii</text></g>
<g id="b-t41"><circle class="lt" cx="586.7" cy="879.4" r="6.7"/><text class="lb" x="589.5" y="887.6">Sloanea_australis</text></g>
<g id="b-t42"><circle class="dk" cx="586.7" cy="900.48" r="6.7"/><text class="lb" x="589.5" y="908.68">Sloanea_macbrydei</text></g>
<g id="b-t43"><circle class="lt" cx="586.7" cy="921.56" r="6.7"/><text class="lb" x="589.5" y="929.76">Elaeocarpus_bancroftii</text></g>
<g id="b-t44"><circle class="lt" cx="586.7" cy="942.64" r="6.7"/><text class="lb" x="589.5" y="950.84">Elaeocarpus_foveolatus</text></g>
<g id="b-t45"><circle class="dk" cx="586.7" cy="963.72" r="6.7"/><text class="lb" x="589.5" y="971.92">Elaeocarpus_angustifolius</text></g>
<g id="b-t46"><circle class="dk" cx="586.7" cy="984.8" r="6.7"/><text class="lb" x="589.5" y="993">Pseudoweinmannia_lachn</text></g>
<g id="b-t47"><circle class="dk" cx="586.7" cy="1005.88" r="6.7"/><text class="lb" x="589.5" y="1014.08">Geissois_biagiana</text></g>
<g id="b-t48"><circle class="lt" cx="586.7" cy="1026.96" r="6.7"/><text class="lb" x="589.5" y="1035.16">Gillbeea_adenopetala</text></g>
<g id="b-t49"><circle class="dk" cx="586.7" cy="1048.04" r="6.7"/><text class="lb" x="589.5" y="1056.24">Caldcluvia_australiensis</text></g>
<g id="b-t50"><circle class="dk" cx="586.7" cy="1069.12" r="6.7"/><text class="lb" x="589.5" y="1077.32">Aleurites_rockinghamens</text></g>
<g id="b-t51"><circle class="lt" cx="586.7" cy="1090.2" r="6.7"/><text class="lb" x="589.5" y="1098.4">Atractocarpus_fitzalanii</text></g>
<g id="b-t52"><circle class="dk" cx="586.7" cy="1111.28" r="6.7"/><text class="lb" x="589.5" y="1119.48">Tarenna_dallachiana</text></g>
<g id="b-t53"><circle class="lt" cx="586.7" cy="1132.36" r="6.7"/><text class="lb" x="589.5" y="1140.56">Neonauclea_gordoniana</text></g>
<g id="b-t54"><circle class="lt" cx="586.7" cy="1153.44" r="6.7"/><text class="lb" x="589.5" y="1161.64">Alstonia_scholaris</text></g>
<g id="b-t55"><circle class="dk" cx="586.7" cy="1174.52" r="6.7"/><text class="lb" x="589.5" y="1182.72">Alstonia_muelleriana</text></g>
<g id="b-t56"><circle class="lt" cx="586.7" cy="1195.6" r="6.7"/><text class="lb" x="589.5" y="1203.8">Gmelina_fasciculiflora</text></g>
<g id="b-t57"><circle class="dk" cx="586.7" cy="1216.68" r="6.7"/><text class="lb" x="589.5" y="1224.88">Polyscias_murrayi</text></g>
<g id="b-t58"><circle class="dk" cx="586.7" cy="1237.76" r="6.7"/><text class="lb" x="589.5" y="1245.96">Polyscias_elegans</text></g>
<g id="b-t59"><circle class="lt" cx="586.7" cy="1258.84" r="6.7"/><text class="lb" x="589.5" y="1267.04">Musgravea_stenostachya</text></g>
<g id="b-t60"><circle class="dk" cx="586.7" cy="1279.92" r="6.7"/><text class="lb" x="589.5" y="1288.12">Musgravea_heterophylla</text></g>
<g id="b-t61"><circle class="lt" cx="586.7" cy="1301" r="6.7"/><text class="lb" x="589.5" y="1309.2">Darlingia_darlingiana</text></g>
<g id="b-t62"><circle class="lt" cx="586.7" cy="1322.08" r="6.7"/><text class="lb" x="589.5" y="1330.28">Cardwellia_sublimis</text></g>
<g id="b-t63"><circle class="lt" cx="586.7" cy="1343.16" r="6.7"/><text class="lb" x="589.5" y="1351.36">Grevillea_hilliana</text></g>
<g id="b-t64"><circle class="gr" cx="586.7" cy="1364.24" r="6.7"/><text class="lb" x="589.5" y="1372.44">Grevillea_baileyana</text></g>
<g id="b-t65"><circle class="lt" cx="586.7" cy="1385.32" r="6.7"/><text class="lb" x="589.5" y="1393.52">Opisthiolepis_heterophylla</text></g>
<g id="b-t66"><circle class="lt" cx="586.7" cy="1406.4" r="6.7"/><text class="lb" x="589.5" y="1414.6">Carnarvonia_araliifolia</text></g>
<g id="b-t67"><circle class="lt" cx="586.7" cy="1427.48" r="6.7"/><text class="lb" x="589.5" y="1435.68">Placospermum_coriaceum</text></g>
<g id="b-t68"><circle class="lt" cx="586.7" cy="1448.56" r="6.7"/><text class="lb" x="589.5" y="1456.76">Cryptocarya_hypospodia</text></g>
<g id="b-t69"><circle class="lt" cx="586.7" cy="1469.64" r="6.7"/><text class="lb" x="589.5" y="1477.84">Cryptocarya_grandis</text></g>
<g id="b-t70"><circle class="lt" cx="586.7" cy="1490.72" r="6.7"/><text class="lb" x="589.5" y="1498.92">Cryptocarya_mackinnonia</text></g>
<g id="b-t71"><circle class="lt" cx="586.7" cy="1511.8" r="6.7"/><text class="lb" x="589.5" y="1520">Cryptocarya_murrayi</text></g>
<g id="b-t72"><circle class="lt" cx="586.7" cy="1532.88" r="6.7"/><text class="lb" x="589.5" y="1541.08">Endiandra_acuminata</text></g>
<g id="b-t73"><circle class="dk" cx="586.7" cy="1553.96" r="6.7"/><text class="lb" x="589.5" y="1562.16">Beilschmiedia_bancroftii</text></g>
<g id="b-t74"><circle class="lt" cx="586.7" cy="1575.04" r="6.7"/><text class="lb" x="589.5" y="1583.24">Litsea_bindoniana</text></g>
<g id="b-t75"><circle class="lt" cx="586.7" cy="1596.12" r="6.7"/><text class="lb" x="589.5" y="1604.32">Litsea_leefeana</text></g>
<g id="b-t76"><circle class="lt" cx="586.7" cy="1617.2" r="6.7"/><text class="lb" x="589.5" y="1625.4">Cinnamomum_laubatii</text></g>
<g id="b-t77"><circle class="lt" cx="586.7" cy="1638.28" r="6.7"/><text class="lb" x="589.5" y="1646.48">Doryphora_aromatica</text></g>
<g id="b-t78"><circle class="dk" cx="586.7" cy="1659.36" r="6.7"/><text class="lb" x="589.5" y="1667.56">Agathis_robusta</text></g>
<g id="b-t79"><circle class="dk" cx="586.7" cy="1680.44" r="6.7"/><text class="lb" x="589.5" y="1688.64">Podocarpus_grayae</text></g>
</g>
<g id="b-nodes" class="nd">
<g id="b-n1"><circle cx="579" cy="46.74" r="6.7"/></g>
<g id="b-n2"><circle cx="571.7" cy="62.55" r="6.7"/></g>
<g id="b-n3"><circle cx="563" cy="81" r="6.7"/></g>
<g id="b-n4"><circle cx="515.7" cy="100.76" r="6.7"/></g>
<g id="b-n5"><circle cx="569.3" cy="152.14" r="6.7"/></g>
<g id="b-n6"><circle cx="552" cy="167.95" r="6.7"/></g>
<g id="b-n7"><circle cx="512" cy="186.4" r="6.7"/></g>
<g id="b-n8"><circle cx="475.7" cy="143.58" r="6.7"/></g>
<g id="b-n9"><circle cx="459.7" cy="184.75" r="6.7"/></g>
<g id="b-n10"><circle cx="550" cy="257.54" r="6.7"/></g>
<g id="b-n11"><circle cx="458.7" cy="221.15" r="6.7"/></g>
<g id="b-n12"><circle cx="584.3" cy="299.7" r="6.7"/></g>
<g id="b-n13"><circle cx="581.7" cy="315.51" r="6.7"/></g>
<g id="b-n14"><circle cx="567.7" cy="333.96" r="6.7"/></g>
<g id="b-n15"><circle cx="537.7" cy="353.72" r="6.7"/></g>
<g id="b-n16"><circle cx="525.3" cy="374.14" r="6.7"/></g>
<g id="b-n17"><circle cx="419.3" cy="297.65" r="6.7"/></g>
<g id="b-n18"><circle cx="544.3" cy="426.18" r="6.7"/></g>
<g id="b-n19"><circle cx="540.3" cy="441.99" r="6.7"/></g>
<g id="b-n20"><circle cx="540" cy="460.44" r="6.7"/></g>
<g id="b-n21"><circle cx="531.7" cy="510.5" r="6.7"/></g>
<g id="b-n22"><circle cx="528.7" cy="485.47" r="6.7"/></g>
<g id="b-n23"><circle cx="514.7" cy="513.8" r="6.7"/></g>
<g id="b-n24"><circle cx="431.7" cy="538.5" r="6.7"/></g>
<g id="b-n25"><circle cx="398.5" cy="418.07" r="6.7"/></g>
<g id="b-n26"><circle cx="581.7" cy="594.82" r="6.7"/></g>
<g id="b-n27"><circle cx="540.7" cy="610.63" r="6.7"/></g>
<g id="b-n28"><circle cx="581.7" cy="658.06" r="6.7"/></g>
<g id="b-n29"><circle cx="569.3" cy="673.87" r="6.7"/></g>
<g id="b-n30"><circle cx="449.3" cy="642.25" r="6.7"/></g>
<g id="b-n31"><circle cx="427.7" cy="676.5" r="6.7"/></g>
<g id="b-n32"><circle cx="555.7" cy="742.38" r="6.7"/></g>
<g id="b-n33"><circle cx="545.7" cy="758.19" r="6.7"/></g>
<g id="b-n34"><circle cx="492" cy="805.62" r="6.7"/></g>
<g id="b-n35"><circle cx="461.7" cy="781.9" r="6.7"/></g>
<g id="b-n36"><circle cx="432.3" cy="809.57" r="6.7"/></g>
<g id="b-n37"><circle cx="406" cy="743.04" r="6.7"/></g>
<g id="b-n38"><circle cx="563.3" cy="868.86" r="6.7"/></g>
<g id="b-n39"><circle cx="554.3" cy="884.67" r="6.7"/></g>
<g id="b-n40"><circle cx="561.7" cy="932.1" r="6.7"/></g>
<g id="b-n41"><circle cx="560.3" cy="947.91" r="6.7"/></g>
<g id="b-n42"><circle cx="483.7" cy="916.29" r="6.7"/></g>
<g id="b-n43"><circle cx="576" cy="995.34" r="6.7"/></g>
<g id="b-n44"><circle cx="547.3" cy="1011.15" r="6.7"/></g>
<g id="b-n45"><circle cx="527" cy="1029.6" r="6.7"/></g>
<g id="b-n46"><circle cx="451" cy="972.94" r="6.7"/></g>
<g id="b-n47"><circle cx="408" cy="1021.03" r="6.7"/></g>
<g id="b-n48"><circle cx="401" cy="882.04" r="6.7"/></g>
<g id="b-n49"><circle cx="396" cy="650.05" r="6.7"/></g>
<g id="b-n50"><circle cx="576.7" cy="1100.74" r="6.7"/></g>
<g id="b-n51"><circle cx="541.7" cy="1116.55" r="6.7"/></g>
<g id="b-n52"><circle cx="585.7" cy="1163.98" r="6.7"/></g>
<g id="b-n53"><circle cx="477.7" cy="1140.27" r="6.7"/></g>
<g id="b-n54"><circle cx="442.7" cy="1167.93" r="6.7"/></g>
<g id="b-n55"><circle cx="562.3" cy="1227.22" r="6.7"/></g>
<g id="b-n56"><circle cx="415.3" cy="1197.58" r="6.7"/></g>
<g id="b-n57"><circle cx="388" cy="923.81" r="6.7"/></g>
<g id="b-n58"><circle cx="582.3" cy="1269.38" r="6.7"/></g>
<g id="b-n59"><circle cx="541.7" cy="1285.19" r="6.7"/></g>
<g id="b-n60"><circle cx="539" cy="1303.64" r="6.7"/></g>
<g id="b-n61"><circle cx="570" cy="1353.7" r="6.7"/></g>
<g id="b-n62"><circle cx="552" cy="1369.51" r="6.7"/></g>
<g id="b-n63"><circle cx="536.7" cy="1336.58" r="6.7"/></g>
<g id="b-n64"><circle cx="533.3" cy="1371.49" r="6.7"/></g>
<g id="b-n65"><circle cx="512.7" cy="1399.49" r="6.7"/></g>
<g id="b-n66"><circle cx="378.5" cy="1161.65" r="6.7"/></g>
<g id="b-n67"><circle cx="582.3" cy="1459.1" r="6.7"/></g>
<g id="b-n68"><circle cx="575" cy="1474.91" r="6.7"/></g>
<g id="b-n69"><circle cx="567.6" cy="1493.36" r="6.7"/></g>
<g id="b-n70"><circle cx="575" cy="1543.42" r="6.7"/></g>
<g id="b-n71"><circle cx="528.7" cy="1518.39" r="6.7"/></g>
<g id="b-n72"><circle cx="573.8" cy="1585.58" r="6.7"/></g>
<g id="b-n73"><circle cx="572.7" cy="1601.39" r="6.7"/></g>
<g id="b-n74"><circle cx="459.4" cy="1559.89" r="6.7"/></g>
<g id="b-n75"><circle cx="414.9" cy="1599.09" r="6.7"/></g>
<g id="b-n76"><circle cx="369.2" cy="1380.37" r="6.7"/></g>
<g id="b-n77"><circle cx="451" cy="1669.9" r="6.7"/></g>
<g id="b-n78"><circle cx="64.8" cy="1525.14" r="6.7"/></g>
</g>
<g id="b-axis">
<line class="ax" x1="27" y1="1693.3" x2="857.5" y2="1693.3"/>
<line class="tk" x1="64.8" y1="1693.3" x2="64.8" y2="1704"/>
<line class="tk" x1="225.9" y1="1693.3" x2="225.9" y2="1704"/>
<line class="tk" x1="387" y1="1693.3" x2="387" y2="1704"/>
<line class="tk" x1="548.1" y1="1693.3" x2="548.1" y2="1704"/>
<line class="tk" x1="709.2" y1="1693.3" x2="709.2" y2="1704"/>
<text class="tl" x="64.8" y="1739">0</text>
<text class="tl" x="225.9" y="1739">100</text>
<text class="tl" x="387" y="1739">200</text>
<text class="tl" x="548.1" y="1739">300</text>
<text class="tl" x="709.2" y="1739">400</text>
</g>
</g>
</svg>
